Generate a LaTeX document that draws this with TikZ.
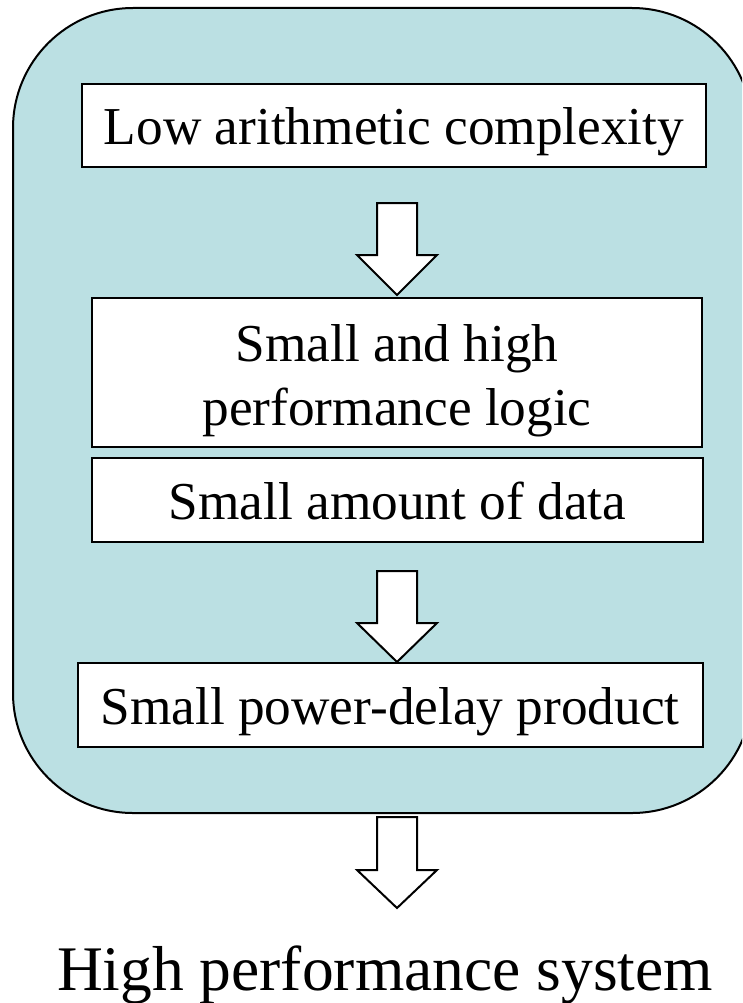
\documentclass[tikz,border=0pt]{standalone}
\usepackage{fontspec}
\setmainfont{Liberation Serif}
\definecolor{panelfill}{HTML}{BBE0E3}
\tikzset{
  panel/.style={draw=black, line width=2pt, fill=panelfill, rounded corners=120pt},
  stepbox/.style={draw=black, line width=2pt, fill=white, inner sep=0pt,
    font=\fontsize{53.3}{64}\selectfont, align=center, text height=50pt, text depth=11pt},
  blockarrow/.style={draw=black, line width=2pt, fill=white, line join=miter},
  bigtext/.style={font=\fontsize{63.5}{70}\selectfont, inner sep=0pt, anchor=base}
}
\begin{document}
\begin{tikzpicture}[x=1pt,y=-1pt]
\useasboundingbox (0,0) rectangle (742,1003);
\clip (0,0) rectangle (742,1003);
\fill[white] (0,0) rectangle (742,1003);
\draw[panel] (13,8) rectangle (752,813);
\node[stepbox, minimum width=624pt, minimum height=83pt] (b1) at (394,125.5) {Low arithmetic complexity};
\node[stepbox, minimum width=610pt, minimum height=149pt, text height=116pt, text depth=11pt] (b2) at (397,372.5) {Small and high\\performance logic};
\node[stepbox, minimum width=611pt, minimum height=84pt] (b3) at (397.5,500) {Small amount of data};
\node[stepbox, minimum width=625pt, minimum height=84pt] (b4) at (390,705) {Small power-delay product};
\node[bigtext] (res) at (385,990) {High performance system};
% block arrows
\draw[blockarrow] (377,203) -- (417,203) -- (417,255) -- (437,255) -- (397,295) -- (357,255) -- (377,255) -- cycle;
\draw[blockarrow] (377,571) -- (417,571) -- (417,623) -- (437,623) -- (397,662) -- (357,623) -- (377,623) -- cycle;
\draw[blockarrow] (377,817) -- (417,817) -- (417,870) -- (437,870) -- (397,908) -- (357,870) -- (377,870) -- cycle;
\end{tikzpicture}
\end{document}
